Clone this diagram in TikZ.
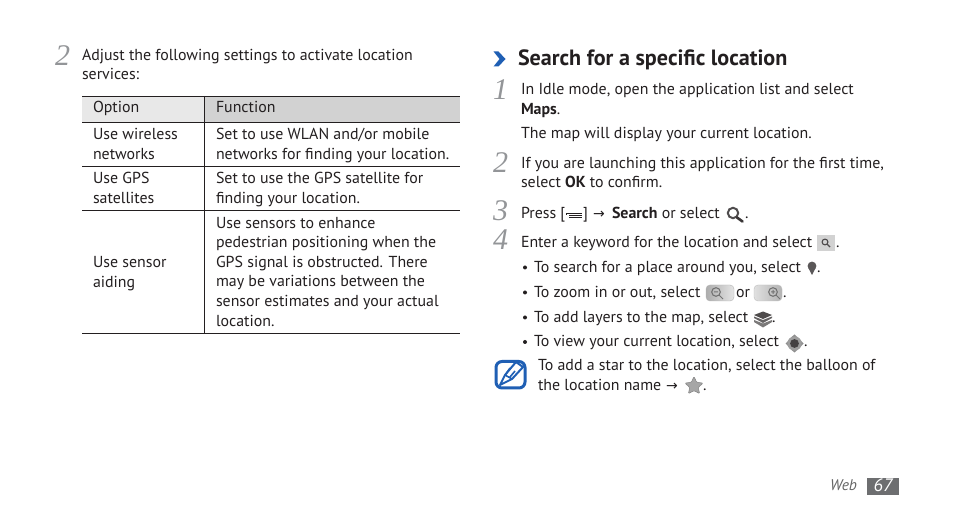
\documentclass[tikz,border=0pt]{standalone}
\usepackage{fontspec}
\setmainfont{PT Sans}
\newfontfamily\numfont{Liberation Serif}
\newfontfamily\symfont{DejaVu Sans}
\usetikzlibrary{shapes.geometric}
\definecolor{txt}{HTML}{231F20}
\definecolor{stepgray}{HTML}{939598}
\definecolor{hdrA}{HTML}{E8E8E8}
\definecolor{hdrB}{HTML}{D2D2D2}
\definecolor{blueic}{HTML}{1F5FB4}
\definecolor{pagebg}{HTML}{6D6E70}
\newcommand{\arr}{{\symfont\fontsize{14}{14}\selectfont →}}
\tikzset{
 x=1pt,y=-1pt,
 tx/.style={anchor=base west,inner sep=0pt,outer sep=0pt,text=txt,font=\fontsize{15.9}{17}\selectfont},
 stepnum/.style={anchor=base west,inner sep=0pt,text=stepgray,font=\fontsize{30}{30}\selectfont\numfont\itshape},
 rule/.style={line width=0.8pt,draw=txt},
 hd/.style={tx,font=\fontsize{22.1}{24}\selectfont\bfseries},
}
\begin{document}
\begin{tikzpicture}
\useasboundingbox (0,0) rectangle (954,518);
\fill[white] (0,0) rectangle (954,518);
% table
\fill[hdrA] (82,96) rectangle (204,122);
\fill[hdrB] (204,96) rectangle (460,122);
\foreach \yy in {96,122,166,210,333} \draw[rule] (82,\yy) -- (460,\yy);
\draw[rule] (204,96) -- (204,333);
% left column
\node[stepnum] (s2a) at (55,66) {2};
\node[tx] (a1) at (82,61) {Adjust the following settings to activate location};
\node[tx] (a2) at (82,80) {services:};
\node[tx] (h1) at (93,113) {Option};
\node[tx] (h2) at (216,113) {Function};
\node[tx] (r1a) at (93,140) {Use wireless};
\node[tx] (r1b) at (93,160) {networks};
\node[tx] (f1a) at (216,140) {Set to use WLAN and/or mobile};
\node[tx] (f1b) at (216,160) {networks for finding your location.};
\node[tx] (r2a) at (93,184) {Use GPS};
\node[tx] (r2b) at (93,204) {satellites};
\node[tx] (f2a) at (216,184) {Set to use the GPS satellite for};
\node[tx] (f2b) at (216,204) {finding your location.};
\node[tx] (r3a) at (93,268) {Use sensor};
\node[tx] (r3b) at (93,288) {aiding};
\node[tx] (f3a) at (216,229) {Use sensors to enhance};
\node[tx] (f3b) at (216,248) {pedestrian positioning when the};
\node[tx] (f3c) at (216,268) {GPS signal is obstructed. There};
\node[tx] (f3d) at (216,287) {may be variations between the};
\node[tx] (f3e) at (216,307) {sensor estimates and your actual};
\node[tx] (f3f) at (216,327) {location.};
% right heading
\fill[blueic] (493.5,51.5) -- (498.5,51.5) -- (505.5,59) -- (498.5,66.5) -- (493.5,66.5) -- (499.5,59) -- cycle;
\node[hd] (title) at (518,65.5) {Search for a specific location};
\node[stepnum] (s1) at (493,100) {1};
\node[tx] (b1) at (521,95) {In Idle mode, open the application list and select};
\node[tx] (b2) at (521,115) {\textbf{Maps}.};
\node[tx] (b3) at (521,139) {The map will display your current location.};
\node[stepnum] (s2) at (493,173) {2};
\node[tx] (c1) at (521,169) {If you are launching this application for the first time,};
\node[tx] (c2) at (521,188) {select \textbf{OK} to confirm.};
\node[stepnum] (s3) at (493,221) {3};
\node[tx] (d1) at (521,219) {Press [};
\draw[txt,line width=0.9pt] (566.5,215) -- (566.5,213) -- (582,213) (569,215.5) -- (582,215.5) (569,217.8) -- (582,217.8);
\node[tx] (d2) at (583,219) {]};
\node[tx] (d3) at (593,219) {\arr};
\node[tx] (d4) at (612,219) {\textbf{Search} or select};
% magnifier
\draw[line width=2pt,draw=txt!80] (733,213) circle (5.2);
\draw[line width=2.6pt,draw=txt!90,line cap=round] (737,217.5) -- (742.5,221.5);
\node[tx] (d5) at (745,219) {.};
\node[stepnum] (s4) at (493,250) {4};
\node[tx] (e1) at (521,248) {Enter a keyword for the location and select};
\fill[hdrB] (817,235) rectangle (835,251);
\draw[line width=1.1pt,draw=txt!80] (825,242) circle (2.9);
\draw[line width=1.4pt,draw=txt!80] (827,244) -- (830,247);
\node[tx] (e2) at (836,248) {.};
% bullets
\foreach \yy in {267.5,292.5,317.5,342} \fill[txt] (525,\yy) circle (2);
\node[tx] (g1) at (534,273) {To search for a place around you, select};
\fill[txt!75] (812,266) circle (4.4);
\fill[txt!75] (808.4,268) -- (815.6,268) -- (812,275) -- cycle;
\node[tx] (g1e) at (817,273) {.};
\node[tx] (g2) at (534,298) {To zoom in or out, select};
\draw[rounded corners=4pt,left color=black!32,right color=black!10,draw=black!30] (706,285) rectangle (734,301);
\draw[line width=1.1pt,draw=black!55] (716,292) circle (4.3);
\draw[line width=1pt,draw=black!55] (714,292) -- (718,292) (719,295) -- (723,299);
\node[tx] (g2b) at (736,298) {or};
\draw[rounded corners=4pt,left color=black!12,right color=black!30,draw=black!25] (754,285) rectangle (782,301);
\draw[line width=1.1pt,draw=black!55] (773,292) circle (4.3);
\draw[line width=1pt,draw=black!55] (771,292) -- (775,292) (773,290) -- (773,294) (776,295) -- (780,299);
\node[tx] (g2e) at (783,298) {.};
\node[tx] (g3) at (534,323) {To add layers to the map, select};
\fill[txt!60] (754,320) -- (763,323.5) -- (772,320) -- (772,322) -- (763,327.5) -- (754,322) -- cycle;
\fill[txt!70] (754,316.5) -- (763,320) -- (772,316.5) -- (772,318) -- (763,323) -- (754,318) -- cycle;
\fill[txt!80] (763,311.5) -- (772,315) -- (763,319) -- (754,315) -- cycle;
\node[tx] (g3e) at (772,323) {.};
\node[tx] (g4) at (534,347) {To view your current location, select};
\fill[black!45] (794.5,334.5) -- (797,337) -- (791.5,337) -- cycle;
\fill[black!45] (794.5,352.5) -- (797,350) -- (791.5,350) -- cycle;
\fill[black!45] (785.5,343.5) -- (788,346) -- (788,341) -- cycle;
\fill[black!45] (803.5,343.5) -- (801,346) -- (801,341) -- cycle;
\fill[black!38] (794.5,343.5) circle (7.2);
\fill[txt!85] (794.5,343.5) circle (4.4);
\node[tx] (g4e) at (804,347) {.};
% note icon
\draw[blueic,line width=3pt,rounded corners=6pt,fill=white] (496,361.5) rectangle (525,388);
\draw[blueic,line width=2pt,line join=round] (500,385) -- (505,375) -- (516,362) -- (523,367) -- (512,379) -- cycle;
\draw[blueic,line width=1.6pt] (505,375) -- (512,379) (510,368) -- (506,374) (515,371) -- (510,377);
\node[tx] (n1) at (538,371) {To add a star to the location, select the balloon of};
\node[tx] (n2) at (538,391) {the location name};
\node[tx] (n3) at (666,391) {\arr};
\node[star,star points=5,star point ratio=2.1,fill=black!35,draw=black!50,line width=0.5pt,inner sep=0pt,minimum size=19pt,rounded corners=1pt] (st) at (694,386) {};
\node[tx] (n4) at (703,391) {.};
% footer
\node[tx,font=\fontsize{15.5}{16}\selectfont\itshape,text=black!60] (web) at (830,491) {Web};
\fill[pagebg] (867,478) rectangle (899,495);
\node[anchor=base,inner sep=0pt,text=white,font=\fontsize{18}{18}\selectfont\itshape] (pg) at (883,492) {67};
\end{tikzpicture}
\end{document}
